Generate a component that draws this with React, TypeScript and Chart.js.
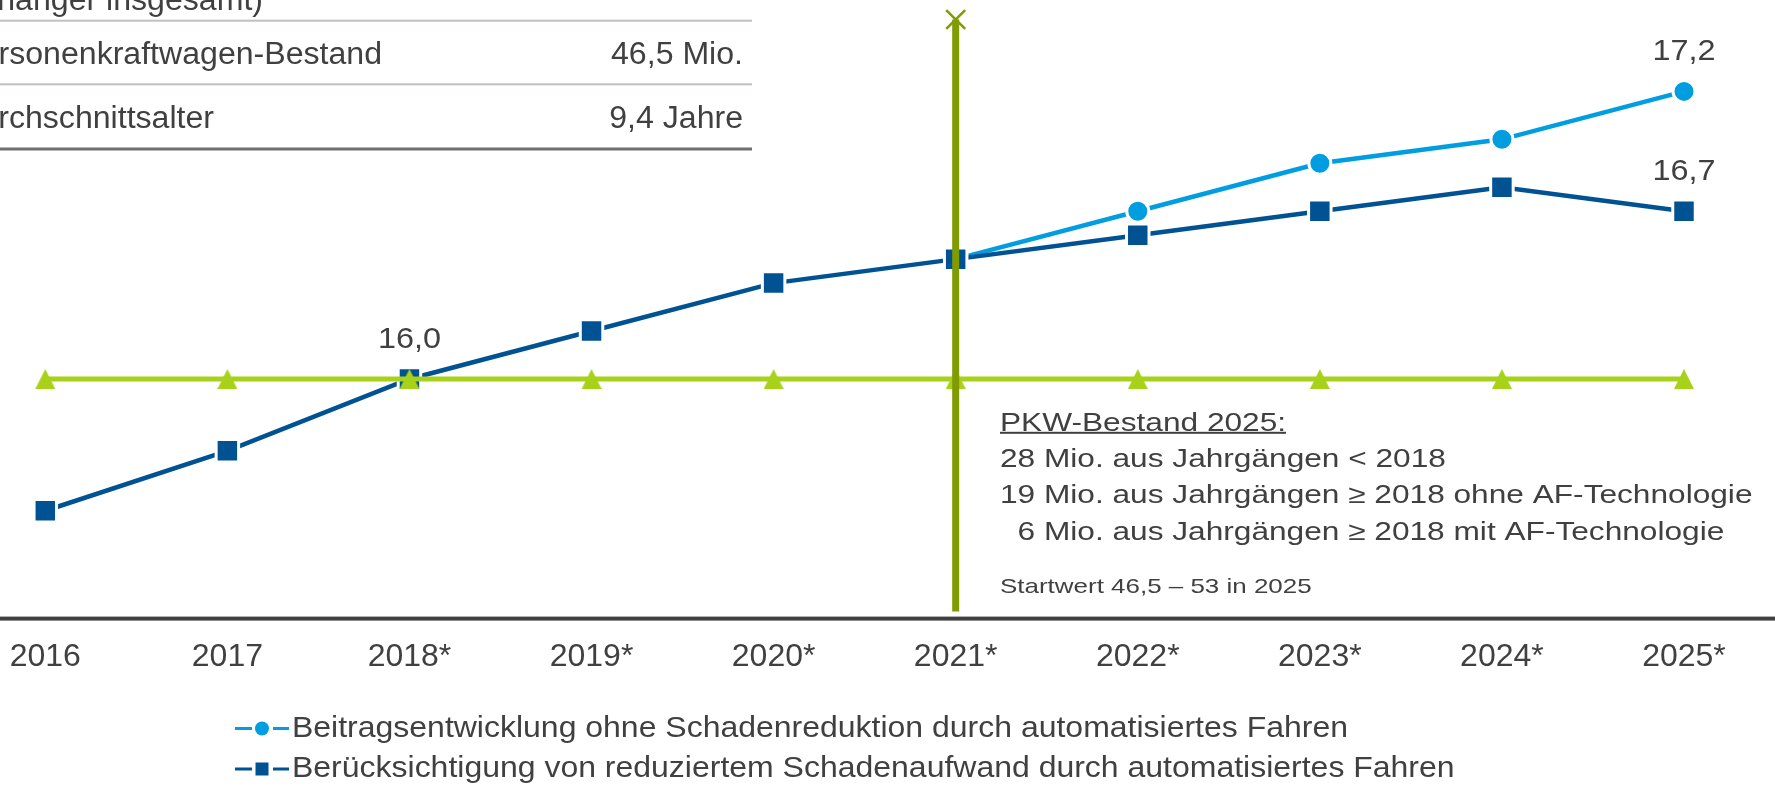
import { useEffect, useRef } from 'react';
import { Chart, registerables } from 'chart.js';

Chart.register(...registerables);

// ---------- data ----------
const categories = ['2016', '2017', '2018*', '2019*', '2020*', '2021*', '2022*', '2023*', '2024*', '2025*'];
const seriesWithoutReduction: (number | null)[] = [null, null, null, null, null, 16.5, 16.7, 16.9, 17.0, 17.2];
const seriesWithReduction: number[] = [15.45, 15.7, 16.0, 16.2, 16.4, 16.5, 16.6, 16.7, 16.8, 16.7];
const seriesStartLevel: number[] = [16.0, 16.0, 16.0, 16.0, 16.0, 16.0, 16.0, 16.0, 16.0, 16.0];
const dividerCategory = '2021*';
const dividerRange: number[] = [15.03, 17.5];
const yRange: number[] = [15, 17.5];
const legendLabels: string[] = [
  'Beitragsentwicklung ohne Schadenreduktion durch automatisiertes Fahren',
  'Berücksichtigung von reduziertem Schadenaufwand durch automatisiertes Fahren',
];
// [datasetIndex, pointIndex]
const labelledPoints: number[][] = [
  [2, 2],
  [3, 9],
  [2, 9],
];
const tableHeaderTail = '(Anhänger insgesamt)';
const tableLabels: string[] = ['Personenkraftwagen-Bestand', 'Durchschnittsalter'];
const tableValues: string[] = ['46,5 Mio.', '9,4 Jahre'];
const noteTitle = 'PKW-Bestand 2025:';
const noteLines: string[] = [
  '28 Mio. aus Jahrgängen < 2018',
  '19 Mio. aus Jahrgängen ≥ 2018 ohne AF-Technologie',
  '  6 Mio. aus Jahrgängen ≥ 2018 mit AF-Technologie',
];
const noteFootnote = 'Startwert 46,5 – 53 in 2025';

// ---------- styles ----------
const FONT = '"Liberation Sans", Arial, sans-serif';
const TEXT = '#404040';
const DARK_BLUE = '#005293';
const LIGHT_BLUE = '#009ee0';
const LIME = '#a8d21a';
const OLIVE = '#7f9b00';

function makeTriangle(color: string, w: number, h: number) {
  const c = document.createElement('canvas');
  c.width = w;
  c.height = h;
  const g = c.getContext('2d')!;
  g.fillStyle = color;
  g.beginPath();
  g.moveTo(w / 2, 0);
  g.lineTo(w, h);
  g.lineTo(0, h);
  g.closePath();
  g.fill();
  return c;
}

const fmt = (v: number) => v.toFixed(1).replace('.', ',');

function drawText(
  ctx: CanvasRenderingContext2D,
  t: string,
  x: number,
  y: number,
  size: number,
  sx: number,
  align: CanvasTextAlign = 'left'
) {
  ctx.save();
  ctx.translate(x, y);
  ctx.scale(sx, 1);
  ctx.font = `${size}px ${FONT}`;
  ctx.textAlign = align;
  ctx.textBaseline = 'alphabetic';
  ctx.fillText(t, 0, 0);
  const w = ctx.measureText(t).width * sx;
  ctx.restore();
  return w;
}

const decorPlugin = {
  id: 'decor',
  afterDatasetsDraw(chart: any) {
    const ctx = chart.ctx as CanvasRenderingContext2D;
    const yScale = chart.scales.y;
    // full-width axis line
    const ay = yScale.getPixelForValue(yRange[0]);
    ctx.save();
    ctx.fillStyle = TEXT;
    ctx.fillRect(0, ay - 2, chart.width, 4);
    // value labels
    labelledPoints.forEach(([di, pi]) => {
      const meta = chart.getDatasetMeta(di);
      const el = meta.data[pi];
      const v = chart.data.datasets[di].data[pi] as number;
      if (el && v != null) drawText(ctx, fmt(v), el.x, el.y - 31, 30, 1.08, 'center');
    });
    ctx.restore();
  },
  afterDraw(chart: any) {
    const ctx = chart.ctx as CanvasRenderingContext2D;
    ctx.save();
    ctx.fillStyle = TEXT;

    // ---- table at top-left ----
    const tsx = 1.035;
    drawText(ctx, tableHeaderTail, 263, 9.5, 31, tsx, 'right');
    drawText(ctx, tableLabels[0], 382, 64, 31, tsx, 'right');
    drawText(ctx, tableValues[0], 743, 64, 31, tsx, 'right');
    drawText(ctx, tableLabels[1], 214, 128.3, 31, tsx, 'right');
    drawText(ctx, tableValues[1], 743, 128.3, 31, tsx, 'right');
    ctx.fillStyle = '#c4bebe';
    ctx.fillRect(0, 19.7, 752, 2);
    ctx.fillRect(0, 83.3, 752, 2);
    ctx.fillStyle = '#707070';
    ctx.fillRect(0, 147.5, 752, 3);

    // ---- note box ----
    const sx = 1.236;
    ctx.fillStyle = TEXT;
    const tw = drawText(ctx, noteTitle, 1000, 430.7, 25.6, sx);
    ctx.fillRect(1000, 431.8, tw, 2);
    const baselines = [466.7, 503.3, 540];
    noteLines.forEach((t, i) => drawText(ctx, t, 1000, baselines[i], 25.6, sx));
    drawText(ctx, noteFootnote, 1000, 593.3, 21, sx);

    // ---- legend ----
    const items = [
      { color: LIGHT_BLUE, shape: 'circle', cy: 728.5, base: 736.7 },
      { color: DARK_BLUE, shape: 'rect', cy: 769, base: 776.7 },
    ];
    items.forEach((it, i) => {
      ctx.fillStyle = it.color;
      ctx.fillRect(235, it.cy - 1.5, 17, 3);
      ctx.fillRect(273, it.cy - 1.5, 16, 3);
      if (it.shape === 'circle') {
        ctx.beginPath();
        ctx.arc(262, it.cy, 7, 0, Math.PI * 2);
        ctx.fill();
      } else {
        ctx.fillRect(255.5, it.cy - 6.5, 13, 13);
      }
      ctx.fillStyle = TEXT;
      drawText(ctx, legendLabels[i], 292, it.base, 30, 1.066);
    });
    ctx.restore();
  },
};

export default function App() {
  const ref = useRef<HTMLCanvasElement | null>(null);

  useEffect(() => {
    if (!ref.current) return;
    const triangle = makeTriangle(LIME, 20, 20);
    const chart = new Chart(ref.current, {
      type: 'line',
      data: {
        labels: categories,
        datasets: [
          {
            label: 'divider',
            data: dividerRange.map((y) => ({ x: dividerCategory, y })) as any,
            borderColor: OLIVE,
            borderWidth: 7,
            borderCapStyle: 'butt',
            pointStyle: 'crossRot',
            pointRadius: [0, 13.4],
            pointBorderWidth: 2.5,
            pointBorderColor: OLIVE,
            pointBackgroundColor: OLIVE,
            clip: false as any,
            order: 0,
          },
          {
            label: 'Startniveau',
            data: seriesStartLevel,
            borderColor: LIME,
            borderWidth: 5,
            pointStyle: triangle as any,
            pointRadius: 10,
            clip: false as any,
            order: 1,
          },
          {
            label: legendLabels[1],
            data: seriesWithReduction,
            borderColor: DARK_BLUE,
            borderWidth: 4.5,
            pointStyle: 'rect',
            pointRadius: 15.9,
            pointBackgroundColor: DARK_BLUE,
            pointBorderColor: '#ffffff',
            pointBorderWidth: 3,
            clip: false as any,
            order: 2,
          },
          {
            label: legendLabels[0],
            data: seriesWithoutReduction,
            borderColor: LIGHT_BLUE,
            borderWidth: 4.5,
            pointStyle: 'circle',
            pointRadius: 11,
            pointBackgroundColor: LIGHT_BLUE,
            pointBorderColor: '#ffffff',
            pointBorderWidth: 3,
            clip: false as any,
            order: 3,
          },
        ],
      },
      options: {
        animation: false,
        responsive: false,
        devicePixelRatio: 1,
        events: [],
        layout: {
          autoPadding: false,
          padding: { left: 45.3, right: 91, top: 19.5, bottom: 111.6 },
        },
        plugins: {
          legend: { display: false },
          tooltip: { enabled: false },
          title: { display: false },
        },
        scales: {
          x: {
            type: 'category',
            offset: false,
            grid: { display: false, drawTicks: true, tickLength: 19.4 },
            border: { display: false },
            ticks: {
              color: TEXT,
              font: { family: FONT, size: 32 },
              padding: 0,
              maxRotation: 0,
              autoSkip: false,
            },
          },
          y: {
            display: false,
            min: yRange[0],
            max: yRange[1],
          },
        },
      },
      plugins: [decorPlugin],
    });
    return () => chart.destroy();
  }, []);

  return (
    <div style={{ position: 'fixed', left: 0, top: 0, width: 1775, height: 788, background: '#ffffff' }}>
      <canvas ref={ref} width={1775} height={788} style={{ display: 'block' }} />
    </div>
  );
}
